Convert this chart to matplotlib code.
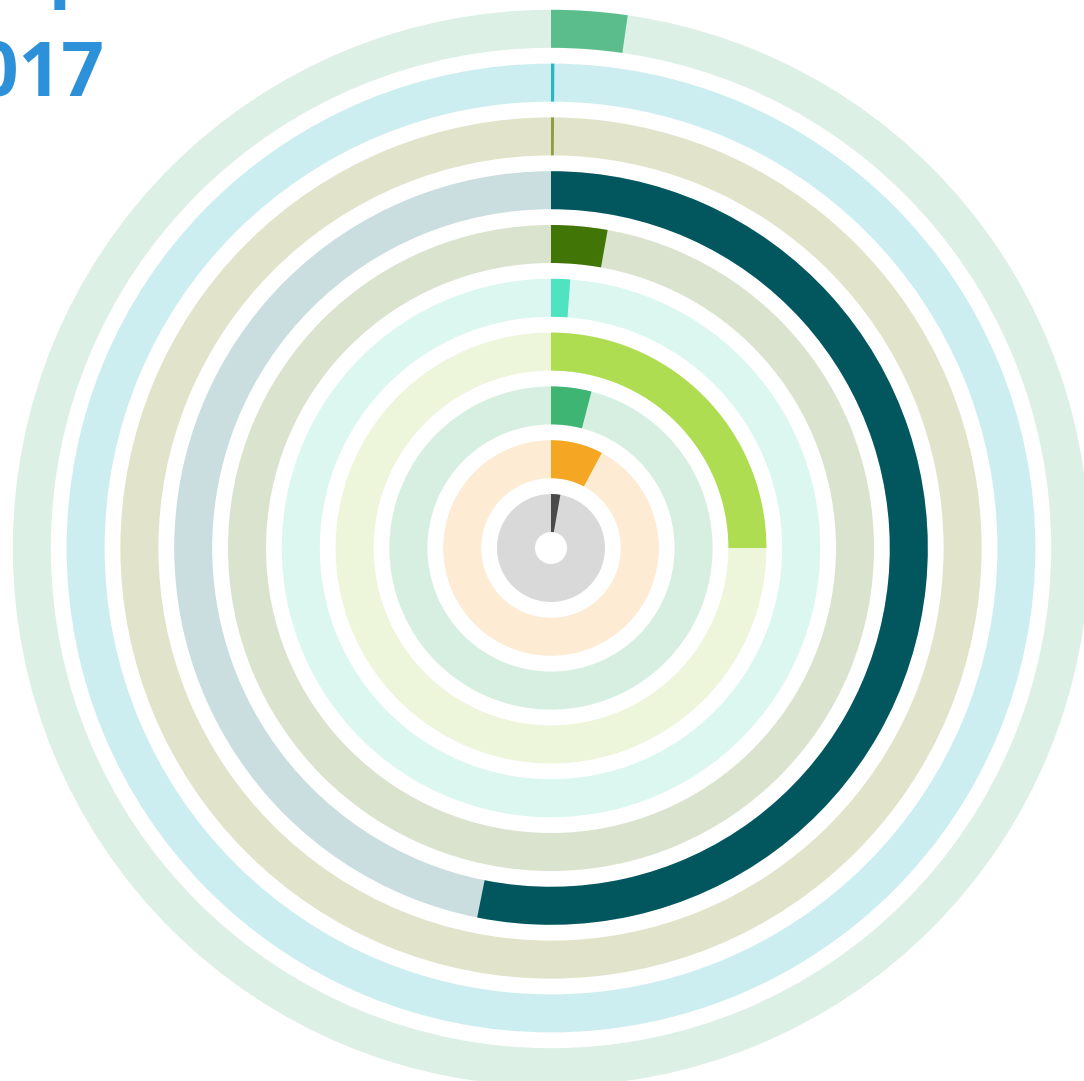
import matplotlib
matplotlib.use("Agg")
import matplotlib.pyplot as plt
from matplotlib.patches import Wedge

# rings listed from the innermost outwards; values on a 0..360 scale
categories = ["A", "B", "C", "D", "E", "F", "G", "H", "I", "J"]
values = [10.0, 28.1, 14.5, 90.0, 4.1, 10.1, 191.3, 0.4, 0.4, 8.2]
colors = ["#4a4a4a", "#f5a623", "#3fb574", "#aedd52", "#50e3c2",
          "#417505", "#02575e", "#8f9e3c", "#2cb5c3", "#5bbd8c"]
track_colors = ["#d9d9d9", "#fdebd3", "#d7efe1", "#edf5da", "#dbf7f0",
                "#d9e3cd", "#cadedf", "#e1e4cb", "#cdeef0", "#ddf0e5"]
full_scale = 360.0
title_lines = ["Top", "2017"]

W, H = 1084, 1081
fig = plt.figure(figsize=(W / 100, H / 100), dpi=100, facecolor="white")
ax = fig.add_axes([0, 0, 1, 1])
ax.set_xlim(0, W)
ax.set_ylim(0, H)
ax.set_aspect("equal")
ax.axis("off")

cx, cy = 551, H - 548
step, width = 53.8, 38

for k, (val, col, bg) in enumerate(zip(values, colors, track_colors)):
    r_out = 54 + step * k
    ax.add_patch(Wedge((cx, cy), r_out, 0, 360, width=width,
                       facecolor=bg, edgecolor="none"))
    ang = val / full_scale * 360.0
    ax.add_patch(Wedge((cx, cy), r_out, 90 - ang, 90, width=width,
                       facecolor=col, edgecolor="none"))

blue = "#2d91d9"
fam = ["Liberation Sans Narrow", "Open Sans", "DejaVu Sans"]
ax.text(104, H - 96, title_lines[1], ha="right", va="baseline",
        fontsize=54, fontweight="bold", color=blue, family=fam)
ax.text(97, H + 8, title_lines[0], ha="right", va="baseline",
        fontsize=54, fontweight="bold", color=blue, family=fam)

fig.savefig("out.png", facecolor=fig.get_facecolor())
